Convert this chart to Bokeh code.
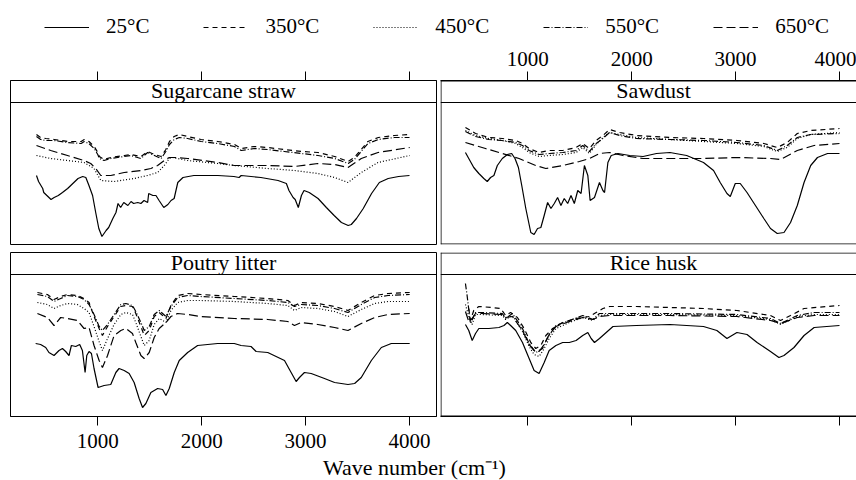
from bokeh.plotting import figure
from bokeh.models import Range1d, FixedTicker, Span, Legend, LegendItem
from bokeh.layouts import column, row
from bokeh.embed import file_html
from bokeh.resources import INLINE
from bokeh.core.properties import value

FONT = "Liberation Serif"

temps = ["25°C", "350°C", "450°C", "550°C", "650°C"]
ticks = [1000, 2000, 3000, 4000]
panel_names = ["Sugarcane straw", "Sawdust", "Poutry litter", "Rice husk"]
x_label = "Wave number (cm⁻¹)"

# ---------------- Sugarcane straw ----------------
sug_wn_25 = [410, 430, 470, 480, 550, 580, 620, 660, 710, 760, 810, 855, 885, 915, 950, 980, 1010, 1040, 1080, 1105,
             1145, 1175, 1195, 1220, 1250, 1290, 1320, 1345, 1385, 1415, 1445, 1480, 1490, 1530, 1560, 1590, 1635, 1675, 1705, 1735,
             1770, 1820, 1925, 2155, 2310, 2360, 2380, 2570, 2735, 2815, 2840, 2880, 2900, 2930, 2960, 2985, 3035, 3120, 3200, 3275,
             3345, 3410, 3440, 3490, 3555, 3635, 3710, 3795, 3895, 4000]
sug_t_25 = [69, 63, 56, 52, 45, 47, 49, 52, 56, 61, 66, 68, 67, 59, 49, 32, 16, 8, 14, 17,
            26, 32, 41, 37, 42, 39, 43, 41, 42, 41, 44, 42, 51, 49, 49, 44, 37, 40, 44, 46,
            62, 67, 69, 69, 68, 67, 69, 67, 64, 61, 54, 47, 45, 37, 49, 54, 52, 46, 37, 29,
            22, 19, 20, 26, 36, 51, 62, 66, 68, 69]
sug_wn_hi = [410, 450, 500, 580, 710, 840, 870, 915, 965, 1000, 1015, 1060, 1125, 1255, 1320, 1415, 1480, 1545, 1610, 1655,
             1690, 1735, 1785, 1865, 1995, 2155, 2315, 2380, 2505, 2635, 2795, 2960, 3120, 3280, 3410, 3470, 3535, 3600, 3700, 3855, 4000]
sug_t_350 = [110, 107, 106, 105, 103, 103, 105, 103, 98, 92, 88, 85, 87, 89, 90, 88, 93, 90, 88, 95,
             103, 108, 110, 108, 105, 103, 100, 96, 98, 97, 95, 93, 92, 88, 83, 87, 95, 103, 107, 109, 110]
sug_t_550 = [108, 105, 104, 104, 102, 101, 103, 101, 96, 90, 86, 84, 86, 88, 89, 86, 92, 89, 86, 93,
             100, 105, 107, 106, 103, 101, 98, 94, 96, 95, 93, 91, 89, 86, 81, 85, 93, 101, 105, 107, 107]
sug_wn_650 = [410, 547, 708, 868, 932, 981, 1029, 1125, 1254, 1415, 1511, 1576, 1640, 1688, 1736, 1865, 2154, 2314, 2636, 2893,
              3118, 3279, 3408, 3536, 3697, 4002]
sug_t_650 = [99, 94, 89, 84, 81, 76, 69, 69, 72, 74, 76, 79, 84, 87, 87, 86, 82, 79, 79, 78,
             81, 80, 77, 86, 92, 97]
sug_wn_450 = [410, 547, 708, 868, 964, 1029, 1157, 1350, 1479, 1576, 1640, 1688, 1720, 1865, 2154, 2314, 2636, 2893, 3118, 3279,
              3408, 3536, 3697, 4002]
sug_t_450 = [89, 86, 84, 82, 76, 64, 63, 66, 69, 72, 79, 86, 87, 84, 81, 79, 76, 74, 71, 67,
             62, 72, 82, 89]

# ---------------- Sawdust ----------------
saw_wn_25 = [400, 432, 480, 529, 577, 610, 642, 674, 707, 755, 804, 845, 877, 910, 942, 981, 1029, 1061, 1094, 1126,
             1158, 1191, 1223, 1255, 1287, 1319, 1351, 1384, 1416, 1448, 1481, 1513, 1545, 1578, 1600, 1642, 1690, 1723, 1739, 1771,
             1803, 1868, 1981, 2110, 2239, 2368, 2529, 2691, 2788, 2852, 2917, 2949, 2997, 3045, 3110, 3191, 3272, 3336, 3401, 3466,
             3529, 3594, 3659, 3723, 3788, 3885, 4000]
saw_t_25 = [92, 86, 77, 71, 66, 63, 67, 69, 79, 86, 90, 91, 86, 77, 59, 36, 12, 10, 16, 17,
            29, 42, 36, 41, 47, 39, 46, 41, 49, 41, 54, 51, 79, 69, 44, 47, 62, 54, 52, 82,
            89, 91, 89, 88, 91, 92, 89, 82, 74, 62, 51, 48, 61, 61, 52, 39, 26, 16, 11, 12,
            22, 39, 62, 79, 87, 91, 91]
saw_wn_hi = [400, 497, 625, 755, 884, 949, 1013, 1109, 1206, 1336, 1465, 1529, 1593, 1658, 1723, 1787, 1884, 2045, 2368, 2691,
             3013, 3272, 3401, 3497, 3594, 3723, 4000]
saw_t_350 = [117, 111, 107, 106, 104, 101, 96, 92, 94, 94, 97, 101, 96, 104, 109, 115, 112, 109, 107, 106,
             104, 101, 97, 102, 111, 114, 116]
saw_t_450 = [114, 109, 106, 104, 101, 97, 92, 88, 89, 90, 92, 97, 91, 100, 107, 112, 110, 107, 105, 103,
             101, 98, 93, 97, 106, 110, 112]
saw_t_550 = [113, 108, 105, 104, 102, 99, 94, 90, 91, 92, 94, 99, 93, 101, 106, 112, 109, 106, 105, 104,
             102, 99, 94, 99, 107, 110, 111]
saw_wn_650 = [400, 593, 755, 916, 1077, 1174, 1336, 1497, 1593, 1690, 1787, 1917, 2110, 2368, 2691, 3013, 3336, 3433, 3594, 3756, 4000]
saw_t_650 = [102, 96, 91, 86, 79, 76, 79, 83, 86, 91, 92, 89, 86, 86, 86, 87, 86, 85, 94, 99, 101]

# ---------------- Poultry litter ----------------
pou_wn_25 = [402, 450, 499, 530, 579, 627, 660, 691, 723, 746, 788, 826, 852, 878, 894, 916, 939, 964, 1003, 1061,
             1125, 1174, 1205, 1254, 1302, 1350, 1398, 1431, 1463, 1511, 1576, 1624, 1656, 1688, 1736, 1784, 1865, 1961, 2154, 2314,
             2379, 2475, 2524, 2636, 2797, 2861, 2909, 2941, 2989, 3054, 3182, 3279, 3408, 3472, 3536, 3633, 3729, 3825, 4002]
pou_t_25 = [73, 72, 69, 64, 61, 66, 68, 65, 61, 71, 70, 72, 66, 44, 61, 65, 63, 48, 29, 31,
            32, 44, 48, 46, 43, 34, 18, 9, 13, 24, 28, 27, 21, 28, 44, 56, 64, 71, 73, 73,
            71, 70, 65, 64, 56, 44, 35, 39, 44, 43, 38, 34, 32, 33, 39, 56, 69, 73, 73]
pou_wn_hi = [419, 515, 579, 643, 708, 804, 868, 916, 964, 1013, 1045, 1094, 1157, 1222, 1270, 1334, 1366, 1415, 1447, 1495,
             1543, 1591, 1656, 1704, 1769, 1865, 1993, 2314, 2636, 2829, 2893, 2958, 3118, 3279, 3408, 3536, 3665, 3793, 4002]
pou_t_350 = [124, 122, 117, 120, 122, 121, 118, 114, 100, 88, 81, 90, 100, 110, 111, 110, 103, 90, 81, 86,
             100, 104, 98, 111, 121, 123, 122, 120, 118, 116, 111, 114, 113, 110, 106, 114, 121, 123, 124]
pou_t_450 = [114, 112, 108, 111, 113, 112, 108, 104, 90, 75, 66, 78, 92, 102, 104, 102, 94, 80, 71, 76,
             92, 98, 94, 106, 114, 116, 116, 115, 113, 111, 106, 109, 108, 105, 100, 107, 113, 115, 115]
pou_t_550 = [122, 120, 115, 118, 121, 120, 117, 112, 102, 90, 86, 92, 102, 112, 113, 111, 105, 94, 86, 90,
             102, 106, 100, 110, 119, 121, 120, 118, 116, 114, 110, 112, 111, 108, 104, 112, 119, 121, 122]
pou_t_650 = [103, 99, 91, 99, 98, 96, 88, 89, 71, 56, 49, 61, 81, 86, 88, 83, 74, 61, 58, 64,
             79, 88, 94, 100, 103, 102, 100, 98, 97, 95, 91, 94, 92, 89, 86, 93, 99, 102, 103]

# ---------------- Rice husk ----------------
ric_wn_25 = [400, 432, 465, 497, 529, 625, 722, 771, 803, 835, 884, 949, 1013, 1061, 1109, 1158, 1206, 1271, 1336, 1400,
             1465, 1529, 1578, 1610, 1642, 1690, 1755, 1820, 2045, 2368, 2691, 2820, 2917, 3013, 3110, 3207, 3336, 3417, 3466, 3562,
             3659, 3756, 4000]
ric_t_25 = [92, 86, 76, 83, 88, 88, 89, 91, 94, 91, 86, 74, 58, 46, 43, 54, 66, 71, 74, 74,
            76, 81, 84, 78, 74, 78, 84, 90, 91, 92, 90, 86, 78, 84, 82, 74, 65, 59, 61, 69,
            81, 89, 91]
ric_wn_350 = [432, 448, 480, 529, 658, 739, 787, 835, 900, 965, 1029, 1077, 1126, 1174, 1239, 1336, 1465, 1593, 1658, 1723,
              1787, 2045, 2691, 3013, 3336, 3433, 3529, 3659, 4000]
ric_t_350 = [108, 96, 106, 110, 109, 108, 101, 104, 99, 88, 74, 68, 71, 81, 88, 94, 98, 100, 104, 108,
             110, 110, 108, 106, 101, 96, 101, 108, 111]
ric_wn_550 = [400, 416, 448, 497, 561, 755, 787, 852, 949, 1013, 1077, 1142, 1191, 1271, 1400, 1529, 1626, 1690, 1787, 2368,
              3013, 3336, 3433, 3594, 3756, 4000]
ric_t_550 = [133, 121, 93, 104, 104, 103, 98, 103, 88, 73, 64, 68, 79, 91, 96, 101, 97, 103, 103, 103,
             102, 98, 93, 101, 104, 104]
ric_wn_lo = [400, 432, 464, 497, 561, 755, 787, 852, 949, 1013, 1061, 1109, 1158, 1206, 1271, 1400, 1529, 1626, 1690, 1787,
             2368, 3013, 3336, 3433, 3594, 3756, 4000]
ric_t_450 = [112, 100, 92, 102, 102, 101, 97, 101, 85, 70, 62, 60, 68, 78, 88, 94, 99, 96, 101, 102,
             102, 101, 97, 92, 100, 102, 102]
ric_t_650 = [105, 95, 98, 103, 103, 102, 99, 100, 86, 72, 66, 65, 72, 82, 90, 95, 99, 97, 100, 101,
             101, 100, 96, 93, 99, 101, 101]

DASH = {"25°C": "solid", "350°C": "5 4", "450°C": "1 2", "550°C": "6 2 1 2", "650°C": "9 4"}
LW = 1.2

series_by_panel = {
    "Sugarcane straw": [(sug_wn_25, sug_t_25), (sug_wn_hi, sug_t_350), (sug_wn_450, sug_t_450),
                        (sug_wn_hi, sug_t_550), (sug_wn_650, sug_t_650)],
    "Sawdust": [(saw_wn_25, saw_t_25), (saw_wn_hi, saw_t_350), (saw_wn_hi, saw_t_450),
                (saw_wn_hi, saw_t_550), (saw_wn_650, saw_t_650)],
    "Poutry litter": [(pou_wn_25, pou_t_25), (pou_wn_hi, pou_t_350), (pou_wn_hi, pou_t_450),
                      (pou_wn_hi, pou_t_550), (pou_wn_hi, pou_t_650)],
    "Rice husk": [(ric_wn_25, ric_t_25), (ric_wn_350, ric_t_350), (ric_wn_lo, ric_t_450),
                  (ric_wn_550, ric_t_550), (ric_wn_lo, ric_t_650)],
}

X0, X1 = 160, 4260
FULL_W = 426
PANEL_H = 164
STRIP_Y = 142
TOP_B = 32      # space for the top axis
BOT_B = 36      # space for the bottom axis
GAP = 4


def make_panel(name, frame_w, is_right, axis_loc, show_labels):
    xr_end = X0 + frame_w * (X1 - X0) / FULL_W
    top = axis_loc == "above"
    bl_ = 2 if is_right else 10
    br_ = 0 if is_right else 2
    bt_ = TOP_B if top else GAP
    bb_ = GAP if top else BOT_B
    p = figure(width=frame_w + bl_ + br_, height=PANEL_H + bt_ + bb_,
               x_range=Range1d(X0, xr_end), y_range=Range1d(0, PANEL_H),
               x_axis_location=axis_loc, y_axis_location=None,
               toolbar_location=None, output_backend="svg",
               min_border_left=bl_, min_border_right=br_,
               min_border_top=bt_, min_border_bottom=bb_)
    p.xgrid.visible = False
    p.ygrid.visible = False
    ax = p.xaxis[0]
    ax.ticker = FixedTicker(ticks=ticks)
    ax.major_tick_in = 0
    ax.major_tick_out = 9
    ax.minor_tick_in = 0
    ax.minor_tick_out = 0
    ax.major_tick_line_color = "black"
    ax.axis_line_color = "black"
    ax.major_label_standoff = 6 if top else 8
    ax.major_label_text_font = FONT
    ax.major_label_text_font_size = "21px"
    ax.major_label_text_color = "black"
    if not show_labels:
        ax.major_label_text_alpha = 0
    if is_right:
        p.outline_line_color = None
        px_unit = (X1 - X0) / FULL_W
        p.add_layout(Span(location=X0 + 0.5 * px_unit, dimension="height", line_color="black", line_width=1))
        p.add_layout(Span(location=0.5, dimension="width", line_color="black", line_width=1))
        p.add_layout(Span(location=PANEL_H - 0.5, dimension="width", line_color="black", line_width=1))
    else:
        p.outline_line_color = "black"
        p.outline_line_width = 1
    p.add_layout(Span(location=STRIP_Y, dimension="width", line_color="black", line_width=1))
    p.text(x=[(X0 + X1) / 2], y=[154], text=[name], text_font=value(FONT),
           text_font_size="22px", text_align="center", text_baseline="middle",
           text_color="black")
    for t, (xs, ys) in zip(temps, series_by_panel[name]):
        p.line(xs, ys, line_color="black", line_width=LW, line_dash=DASH[t])
    return p


tl = make_panel(panel_names[0], 426, False, "above", False)
tr = make_panel(panel_names[1], 416, True, "above", True)
bl = make_panel(panel_names[2], 426, False, "below", True)
br = make_panel(panel_names[3], 416, True, "below", False)

# legend strip
LEG_H = 48
leg = figure(width=856, height=LEG_H, x_range=Range1d(0, 1), y_range=Range1d(0, 1),
             toolbar_location=None, output_backend="svg", min_border=0,
             x_axis_location=None, y_axis_location=None)
leg.outline_line_color = None
leg.xgrid.visible = False
leg.ygrid.visible = False
items = []
for t in temps:
    r = leg.line(x=[5, 6], y=[5, 6], line_color="black", line_width=LW, line_dash=DASH[t])
    items.append(LegendItem(label=t, renderers=[r]))
legend = Legend(items=items, orientation="horizontal", location=(44, 9),
                glyph_width=45, glyph_height=20, label_standoff=17, spacing=54,
                padding=0, margin=0, border_line_color=None, background_fill_alpha=0,
                label_text_font=FONT, label_text_font_size="21px", label_text_color="black")
leg.add_layout(legend, "center")

# axis title strip
TF_H = 480 - LEG_H - (PANEL_H + TOP_B + GAP) - (PANEL_H + GAP + BOT_B)
tf = figure(width=856, height=TF_H, x_range=Range1d(0, 856), y_range=Range1d(0, TF_H),
            toolbar_location=None, output_backend="svg", min_border=0,
            x_axis_location=None, y_axis_location=None)
tf.outline_line_color = None
tf.xgrid.visible = False
tf.ygrid.visible = False
tf.text(x=[414], y=[13], text=[x_label], text_font=value(FONT), text_font_size="22px",
        text_align="center", text_baseline="middle", text_color="black")

layout = column(leg, row(tl, tr), row(bl, br), tf)
open("out.html", "w").write(file_html(layout, INLINE))
